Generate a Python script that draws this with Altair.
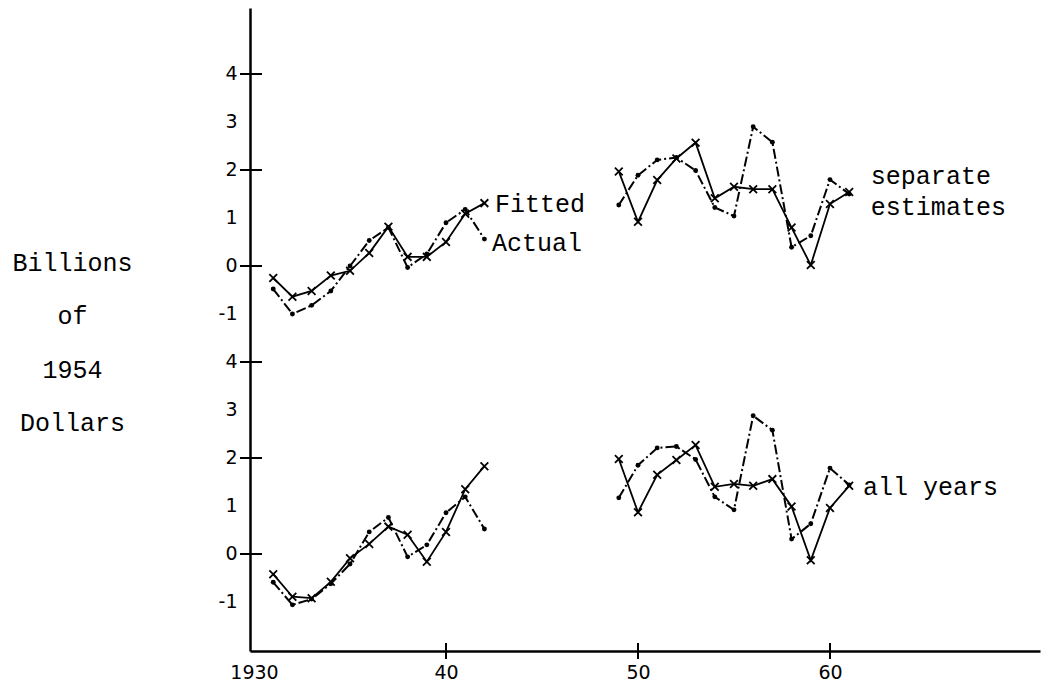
import altair as alt
import pandas as pd

# ---------------- data ----------------
years_pre = list(range(1931, 1943))
years_post = list(range(1949, 1962))

# upper panel: "separate estimates"
sep_actual_pre = [-0.48, -1.00, -0.82, -0.52, 0.00, 0.53, 0.80, -0.03, 0.25, 0.90, 1.18, 0.56]
sep_fitted_pre = [-0.25, -0.64, -0.52, -0.20, -0.10, 0.27, 0.82, 0.19, 0.19, 0.50, 1.09, 1.31]
sep_actual_post = [1.27, 1.89, 2.21, 2.26, 1.99, 1.22, 1.04, 2.90, 2.58, 0.39, 0.63, 1.80, 1.50]
sep_fitted_post = [1.97, 0.92, 1.79, 2.24, 2.57, 1.41, 1.65, 1.60, 1.60, 0.80, 0.02, 1.29, 1.54]

# lower panel: "all years"
all_actual_pre = [-0.59, -1.06, -0.94, -0.62, -0.21, 0.46, 0.76, -0.06, 0.19, 0.86, 1.19, 0.52]
all_fitted_pre = [-0.42, -0.89, -0.92, -0.58, -0.09, 0.21, 0.57, 0.40, -0.16, 0.46, 1.35, 1.83]
all_actual_post = [1.17, 1.85, 2.21, 2.24, 1.97, 1.19, 0.92, 2.88, 2.58, 0.31, 0.63, 1.79, 1.44]
all_fitted_post = [1.98, 0.87, 1.65, 1.96, 2.27, 1.40, 1.46, 1.42, 1.56, 0.99, -0.13, 0.96, 1.42]

panel_top = "separate estimates"
panel_bottom = "all years"
panel_offset = 6  # upper panel is stacked 6 units above the lower one on the shared axis

y_tick_values = list(range(-1, 11))
y_tick_marks = [0, 2, 4, 6, 8, 10]
x_tick_values = [1930, 1940, 1950, 1960]
x_tick_marks = [1940, 1950, 1960]

ann_text = ["Fitted", "Actual", "separate", "estimates", "all years"]
ann_year = [1942.55, 1942.39, 1962.13, 1962.13, 1961.72]
ann_value = [1.13, 0.32, 1.71, 1.06, 1.23]
ann_panel = [panel_top, panel_top, panel_top, panel_top, panel_bottom]

# ---------------- tables ----------------
rows = []
def add(panel, series, period, years, vals):
    for yr, v in zip(years, vals):
        rows.append(dict(panel=panel, series=series, period=period, year=yr, value=v))

add(panel_top, "Actual", "pre", years_pre, sep_actual_pre)
add(panel_top, "Fitted", "pre", years_pre, sep_fitted_pre)
add(panel_top, "Actual", "post", years_post, sep_actual_post)
add(panel_top, "Fitted", "post", years_post, sep_fitted_post)
add(panel_bottom, "Actual", "pre", years_pre, all_actual_pre)
add(panel_bottom, "Fitted", "pre", years_pre, all_fitted_pre)
add(panel_bottom, "Actual", "post", years_post, all_actual_post)
add(panel_bottom, "Fitted", "post", years_post, all_fitted_post)
df = pd.DataFrame(rows)

ann_df = pd.DataFrame(dict(text=ann_text, year=ann_year, value=ann_value, panel=ann_panel))
ytick_df = pd.DataFrame(dict(yv=y_tick_marks))
xtick_df = pd.DataFrame(dict(year=x_tick_marks))

offset_expr = f"datum.value + (datum.panel === '{panel_top}' ? {panel_offset} : 0)"

# ---------------- shared scales / axes ----------------
hand_font = "DejaVu Sans"
type_font = "Liberation Mono"

xaxis = alt.Axis(
    values=x_tick_values,
    labelExpr="datum.value == 1930 ? '1930' : slice(toString(datum.value), 2)",
    ticks=False, grid=False, domainColor="black", domainWidth=2.5,
    labelFont=hand_font, labelFontSize=19, labelColor="black",
    labelPadding=12, labelFlush=False, title="",
)
yaxis = alt.Axis(
    values=y_tick_values,
    labelExpr=f"datum.value > 4.5 ? datum.value - {panel_offset} : datum.value",
    ticks=False, grid=False, domainColor="black", domainWidth=2.5,
    labelFont=hand_font, labelFontSize=19, labelColor="black",
    labelPadding=13, labelFlush=False,
    title=["Billions", "of", "1954", "Dollars"],
    titleAngle=0, titleAlign="center", titleBaseline="alphabetic",
    titleX=-178, titleY=262, titleFont=type_font, titleFontSize=25,
    titleFontWeight="normal", titleLineHeight=53.5, titleColor="black",
)
xscale = alt.Scale(domain=[1929.79, 1970.94], nice=False, zero=False)
yscale = alt.Scale(domain=[-2.021, 11.375], nice=False, zero=False)

X = alt.X("year:Q", scale=xscale, axis=xaxis)
Y = alt.Y("yv:Q", scale=yscale, axis=yaxis)

base = alt.Chart(df).transform_calculate(yv=offset_expr, grp="datum.panel + '_' + datum.period")

actual_line = base.transform_filter("datum.series === 'Actual'").mark_line(
    color="black", strokeWidth=2, strokeDash=[10, 3, 2, 3]
).encode(x=X, y=Y, detail="grp:N")

actual_pts = base.transform_filter("datum.series === 'Actual'").mark_circle(
    color="black", size=24, opacity=1
).encode(x=X, y=Y)

fitted_line = base.transform_filter("datum.series === 'Fitted'").mark_line(
    color="black", strokeWidth=1.8
).encode(x=X, y=Y, detail="grp:N")

fitted_pts = base.transform_filter("datum.series === 'Fitted'").mark_point(
    shape="M-1,-1L1,1M-1,1L1,-1", size=60, strokeWidth=1.8,
    color="black", filled=False, opacity=1
).encode(x=X, y=Y)

ann = alt.Chart(ann_df).transform_calculate(yv=offset_expr).mark_text(
    font=type_font, fontSize=25, align="left", baseline="alphabetic", color="black"
).encode(x=X, y=Y, text="text:N")

ytick_rules = alt.Chart(ytick_df).mark_rule(color="black", strokeWidth=2).encode(
    y=Y, x=alt.value(-10), x2=alt.value(12)
)
xtick_rules = alt.Chart(xtick_df).mark_rule(color="black", strokeWidth=2).encode(
    x=X, y=alt.value(635), y2=alt.value(651)
)

chart = alt.layer(
    ytick_rules, xtick_rules, actual_line, actual_pts, fitted_line, fitted_pts, ann
).properties(
    width=790, height=643,
    autosize=alt.AutoSizeParams(type="none"),
    padding={"left": 250, "top": 8, "right": 3, "bottom": 39},
    background="white",
).configure_view(stroke=None)

chart.save("out.html", embed_options={"renderer": "svg", "actions": False})
